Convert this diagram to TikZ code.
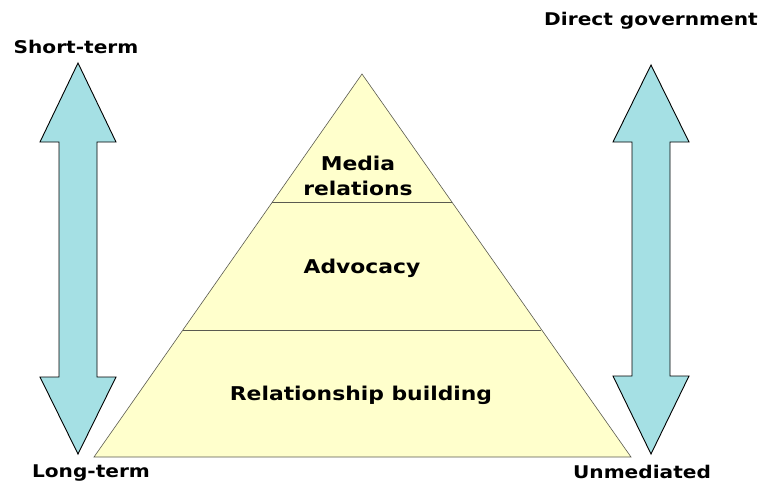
\documentclass[tikz,border=0pt]{standalone}
\usepackage{fontspec}
\setmainfont[FakeStretch=1.15]{DejaVu Sans}
\usetikzlibrary{positioning}
\definecolor{C}{RGB}{165, 224, 228}
\definecolor{Y}{RGB}{255, 255, 204}
\definecolor{P}{RGB}{90, 90, 80}

\tikzset{
  lbl/.style={font=\bfseries\fontsize{17.5}{20}\selectfont, inner sep=0pt},
  inlbl/.style={font=\bfseries\fontsize{19}{25}\selectfont, inner sep=0pt, align=center},
  bigarrow/.style={draw=black, fill=C, line width=0.9pt, line join=miter}
}

\begin{document}
\begin{tikzpicture}[x=1pt, y=-1pt]
  \useasboundingbox (0,0) rectangle (758,485);

  %# PIRAMIDE
  \filldraw[draw=P, fill=Y, line width=0.6pt] (362,74) -- (631,457) -- (94,457) -- cycle;
  \coordinate (m1) at (272,202);
  \coordinate (m2) at (452,202);
  \coordinate (a1) at (183,330);
  \coordinate (a2) at (541,330);
  \draw[P, line width=0.6pt] (m1) -- (m2);
  \draw[P, line width=0.6pt] (a1) -- (a2);

  %# NIVELES
  \node[inlbl] (media) at (358,176) {Media\\relations};
  \node[inlbl] (advocacy) at (362,268) {Advocacy};
  \node[inlbl] (relation) at (361,395) {Relationship building};

  %# FLECHA IZQUIERDA
  \draw[bigarrow] (78,63) -- (116,142) -- (97,142) -- (97,377) -- (116,377)
    -- (78,454) -- (40,377) -- (59,377) -- (59,142) -- (40,142) -- cycle;
  \node[lbl] (short) at (76,47) {Short-term};
  \node[lbl] (long) at (91,473) {Long-term};

  %# FLECHA DERECHA
  \draw[bigarrow] (651,65) -- (689,142) -- (670,142) -- (670,376) -- (689,376)
    -- (651,454) -- (613,376) -- (632,376) -- (632,142) -- (613,142) -- cycle;
  \node[lbl] (direct) at (651,21) {Direct government};
  \node[lbl] (unmed) at (642,472) {Unmediated};
\end{tikzpicture}
\end{document}
